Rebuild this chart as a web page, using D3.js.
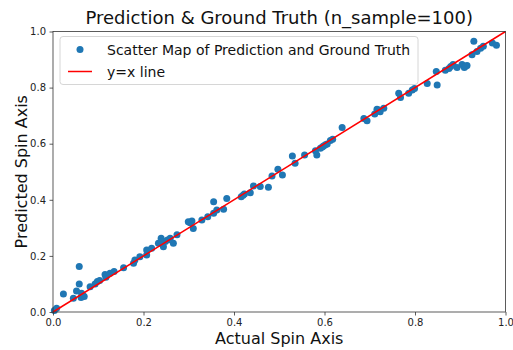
<!DOCTYPE html>
<html>
<head>
<meta charset="utf-8">
<script src="https://cdn.jsdelivr.net/npm/d3@7"></script>
<style>
  body { margin: 0; background: #fff; }
  svg { font-family: "DejaVu Sans", sans-serif; }
</style>
</head>
<body>
<div id="chart"></div>
<script>
const actual = [
  0.003, 0.008, 0.023, 0.045, 0.052, 0.058, 0.058, 0.062, 0.063, 0.069,
  0.082, 0.093, 0.098, 0.115, 0.117, 0.126, 0.135, 0.156, 0.178, 0.181,
  0.192, 0.207, 0.207, 0.218, 0.233, 0.239, 0.244, 0.248, 0.259, 0.266,
  0.274, 0.299, 0.307, 0.310, 0.329, 0.342, 0.355, 0.355, 0.362, 0.377,
  0.384, 0.416, 0.423, 0.436, 0.443, 0.458, 0.476, 0.484, 0.497, 0.507,
  0.529, 0.535, 0.556, 0.580, 0.583, 0.591, 0.598, 0.606, 0.613, 0.618,
  0.639, 0.687, 0.694, 0.711, 0.716, 0.723, 0.731, 0.764, 0.768, 0.786,
  0.794, 0.799, 0.827, 0.847, 0.849, 0.867, 0.875, 0.884, 0.893, 0.904,
  0.909, 0.915, 0.926, 0.937, 0.930, 0.951, 0.971, 0.980, 0.066, 0.103,
  0.238, 0.253, 0.303, 0.420, 0.595, 0.602, 0.720, 0.879, 0.912, 0.945
];
const predicted = [
  0.005, 0.013, 0.064, 0.049, 0.075, 0.100, 0.162, 0.052, 0.067, 0.055,
  0.090, 0.100, 0.109, 0.134, 0.124, 0.138, 0.144, 0.158, 0.174, 0.185,
  0.197, 0.203, 0.221, 0.227, 0.245, 0.263, 0.233, 0.251, 0.263, 0.245,
  0.275, 0.322, 0.324, 0.298, 0.328, 0.340, 0.393, 0.352, 0.364, 0.366,
  0.405, 0.411, 0.421, 0.425, 0.449, 0.447, 0.445, 0.485, 0.509, 0.488,
  0.556, 0.530, 0.560, 0.575, 0.560, 0.584, 0.592, 0.599, 0.611, 0.616,
  0.658, 0.690, 0.682, 0.706, 0.723, 0.714, 0.726, 0.780, 0.765, 0.780,
  0.791, 0.797, 0.815, 0.857, 0.809, 0.862, 0.868, 0.882, 0.872, 0.882,
  0.872, 0.879, 0.917, 0.929, 0.965, 0.947, 0.959, 0.951, 0.060, 0.112,
  0.250, 0.257, 0.318, 0.416, 0.588, 0.596, 0.720, 0.875, 0.876, 0.940
];
const tickValues = [0, 0.2, 0.4, 0.6, 0.8, 1.0];
const titleText = "Prediction & Ground Truth (n_sample=100)";
const xLabel = "Actual Spin Axis";
const yLabel = "Predicted Spin Axis";
const legendLabels = ["Scatter Map of Prediction and Ground Truth", "y=x line"];

const width = 513, height = 350;
const margin = { top: 31.5, right: 7.5, bottom: 38, left: 53 };
const innerWidth = width - margin.left - margin.right;
const innerHeight = height - margin.top - margin.bottom;

const points = actual.map((a, i) => ({ x: a, y: predicted[i] }));

const svg = d3.select("#chart")
  .append("svg")
  .attr("width", width)
  .attr("height", height);

const g = svg.append("g")
  .attr("transform", `translate(${margin.left}, ${margin.top})`);

const xScale = d3.scaleLinear().domain([0, 1]).range([0, innerWidth]);
const yScale = d3.scaleLinear().domain([0, 1]).range([innerHeight, 0]);

g.append("g")
  .selectAll("circle")
  .data(points)
  .join("circle")
  .attr("cx", d => xScale(d.x))
  .attr("cy", d => yScale(d.y))
  .attr("r", 3.5)
  .attr("fill", "#1f77b4");

const line = d3.line()
  .x(d => xScale(d))
  .y(d => yScale(d));

g.append("path")
  .datum([0, 1])
  .attr("fill", "none")
  .attr("stroke", "#ff0000")
  .attr("stroke-width", 1.5)
  .attr("d", line);

const xAxis = d3.axisBottom(xScale)
  .tickValues(tickValues)
  .tickFormat(d3.format(".1f"))
  .tickSize(3.5)
  .tickPadding(3.5);

const yAxis = d3.axisLeft(yScale)
  .tickValues(tickValues)
  .tickFormat(d3.format(".1f"))
  .tickSize(3.5)
  .tickPadding(3.5);

const xg = g.append("g")
  .attr("transform", `translate(0, ${innerHeight})`)
  .call(xAxis);
const yg = g.append("g").call(yAxis);

[xg, yg].forEach(a => {
  a.select(".domain").remove();
  a.selectAll("line").attr("stroke", "#333").attr("stroke-width", 0.8);
  a.selectAll("text")
    .attr("fill", "#222")
    .style("font-size", "10px")
    .style("font-family", "DejaVu Sans");
});

// frame
g.append("rect")
  .attr("width", innerWidth)
  .attr("height", innerHeight)
  .attr("fill", "none")
  .attr("stroke", "#333")
  .attr("stroke-width", 0.8);

svg.append("text")
  .attr("x", margin.left + innerWidth / 2)
  .attr("y", 24)
  .attr("text-anchor", "middle")
  .style("font-size", "18px")
  .attr("fill", "#111")
  .text(titleText);

svg.append("text")
  .attr("x", margin.left + innerWidth / 2)
  .attr("y", 344)
  .attr("text-anchor", "middle")
  .style("font-size", "16px")
  .attr("fill", "#111")
  .text(xLabel);

svg.append("text")
  .attr("transform", `translate(27, ${margin.top + innerHeight / 2}) rotate(-90)`)
  .attr("text-anchor", "middle")
  .style("font-size", "16px")
  .attr("fill", "#111")
  .text(yLabel);

// legend
const legend = g.append("g").attr("transform", "translate(7, 5)");
legend.append("rect")
  .attr("width", 358)
  .attr("height", 48)
  .attr("rx", 3)
  .attr("fill", "#fff")
  .attr("fill-opacity", 0.8)
  .attr("stroke", "#ccc")
  .attr("stroke-width", 0.8);

legend.append("circle")
  .attr("cx", 20)
  .attr("cy", 13)
  .attr("r", 3.5)
  .attr("fill", "#1f77b4");

legend.append("line")
  .attr("x1", 8).attr("x2", 32)
  .attr("y1", 35).attr("y2", 35)
  .attr("stroke", "#ff0000")
  .attr("stroke-width", 1.5);

legend.selectAll("text.lbl")
  .data(legendLabels)
  .join("text")
  .attr("class", "lbl")
  .attr("x", 47)
  .attr("y", (d, i) => 18 + i * 22)
  .style("font-size", "14px")
  .attr("fill", "#111")
  .text(d => d);
</script>
</body>
</html>
